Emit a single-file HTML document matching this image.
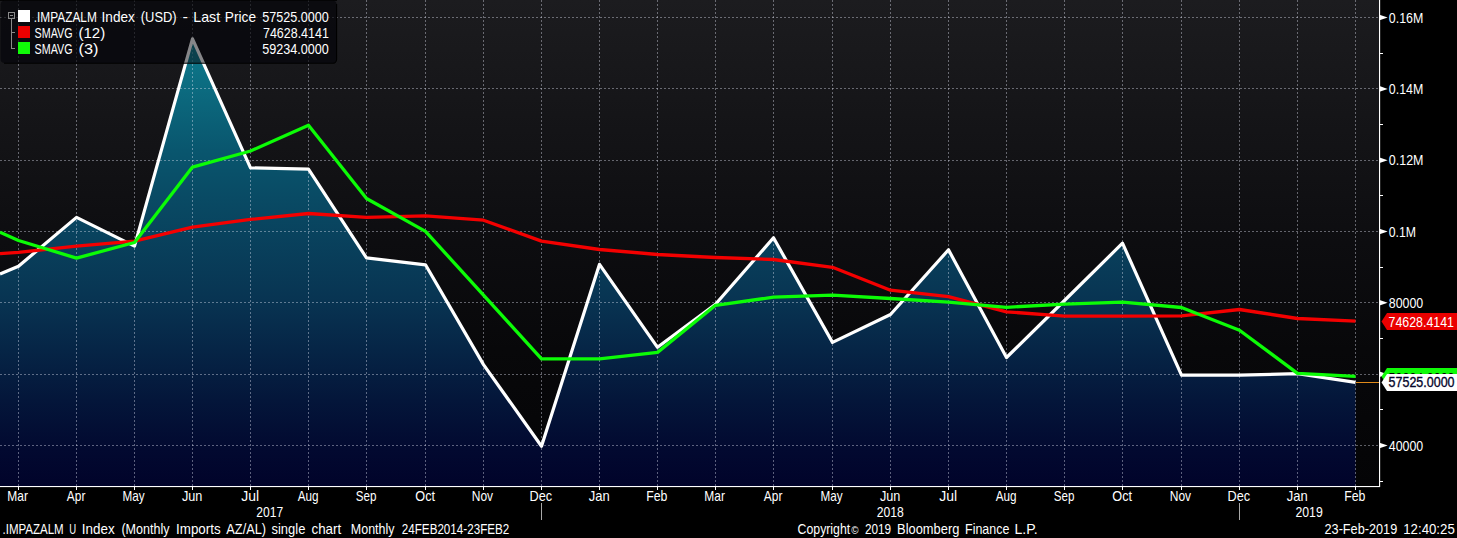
<!DOCTYPE html>
<html><head><meta charset="utf-8"><title>.IMPAZALM Index</title>
<style>
html,body{margin:0;padding:0;background:#000;}
body{width:1457px;height:538px;overflow:hidden;}
svg{display:block;}
text{font-family:"Liberation Sans",sans-serif;font-size:14.3px;fill:#fff;}
</style></head><body>
<svg width="1457" height="538" viewBox="0 0 1457 538">
<defs>
<linearGradient id="bg" x1="0" y1="0" x2="0" y2="1">
<stop offset="0" stop-color="#1c1c1f"/><stop offset="0.5" stop-color="#0d0d10"/><stop offset="0.72" stop-color="#08080a"/><stop offset="1" stop-color="#040406"/>
</linearGradient>
<linearGradient id="fill" gradientUnits="userSpaceOnUse" x1="0" y1="38" x2="0" y2="486">
<stop offset="0" stop-color="#0e7c8e"/><stop offset="0.25" stop-color="#09566e"/><stop offset="0.36" stop-color="#094a64"/><stop offset="0.585" stop-color="#083452"/><stop offset="0.696" stop-color="#062546"/><stop offset="0.808" stop-color="#04163a"/><stop offset="0.92" stop-color="#020930"/><stop offset="1" stop-color="#01032a"/>
</linearGradient>
<clipPath id="lg"><rect x="0.6" y="0.8" width="336" height="62.2" rx="4" ry="4"/></clipPath>
</defs>
<rect x="0" y="0" width="1457" height="538" fill="#000"/>
<rect x="0" y="0" width="1379.5" height="486.3" fill="url(#bg)"/>

<polygon id="area" points="0.0,274.0 18.5,266.2 76.5,217.4 134.5,246.1 192.5,38.9 250.5,167.9 308.5,169.1 366.5,257.9 425.5,264.8 483.5,364.6 541.5,446.2 599.5,264.3 657.5,347.3 715.5,304.2 773.5,237.8 832.5,342.4 890.5,314.5 948.5,249.8 1006.5,357.5 1064.5,300.5 1122.5,243.2 1181.5,375.1 1239.5,375.1 1297.5,373.7 1355.5,382.4 1355.5,486.3 0.0,486.3" fill="url(#fill)"/>
<g stroke="#e4e6f4" stroke-opacity="0.40" stroke-width="1" stroke-dasharray="2 2" fill="none" shape-rendering="crispEdges">
<line x1="0" y1="17.5" x2="1379.5" y2="17.5"/>
<line x1="0" y1="88.5" x2="1379.5" y2="88.5"/>
<line x1="0" y1="160.5" x2="1379.5" y2="160.5"/>
<line x1="0" y1="231.5" x2="1379.5" y2="231.5"/>
<line x1="0" y1="302.5" x2="1379.5" y2="302.5"/>
<line x1="0" y1="374.5" x2="1379.5" y2="374.5"/>
<line x1="0" y1="445.5" x2="1379.5" y2="445.5"/>
<line x1="18.5" y1="0" x2="18.5" y2="486.3"/>
<line x1="76.5" y1="0" x2="76.5" y2="486.3"/>
<line x1="134.5" y1="0" x2="134.5" y2="486.3"/>
<line x1="192.5" y1="0" x2="192.5" y2="486.3"/>
<line x1="250.5" y1="0" x2="250.5" y2="486.3"/>
<line x1="308.5" y1="0" x2="308.5" y2="486.3"/>
<line x1="366.5" y1="0" x2="366.5" y2="486.3"/>
<line x1="425.5" y1="0" x2="425.5" y2="486.3"/>
<line x1="483.5" y1="0" x2="483.5" y2="486.3"/>
<line x1="541.5" y1="0" x2="541.5" y2="486.3"/>
<line x1="599.5" y1="0" x2="599.5" y2="486.3"/>
<line x1="657.5" y1="0" x2="657.5" y2="486.3"/>
<line x1="715.5" y1="0" x2="715.5" y2="486.3"/>
<line x1="773.5" y1="0" x2="773.5" y2="486.3"/>
<line x1="832.5" y1="0" x2="832.5" y2="486.3"/>
<line x1="890.5" y1="0" x2="890.5" y2="486.3"/>
<line x1="948.5" y1="0" x2="948.5" y2="486.3"/>
<line x1="1006.5" y1="0" x2="1006.5" y2="486.3"/>
<line x1="1064.5" y1="0" x2="1064.5" y2="486.3"/>
<line x1="1122.5" y1="0" x2="1122.5" y2="486.3"/>
<line x1="1181.5" y1="0" x2="1181.5" y2="486.3"/>
<line x1="1239.5" y1="0" x2="1239.5" y2="486.3"/>
<line x1="1297.5" y1="0" x2="1297.5" y2="486.3"/>
<line x1="1355.5" y1="0" x2="1355.5" y2="486.3"/>
</g>
<polyline id="wl" points="0.0,274.0 18.5,266.2 76.5,217.4 134.5,246.1 192.5,38.9 250.5,167.9 308.5,169.1 366.5,257.9 425.5,264.8 483.5,364.6 541.5,446.2 599.5,264.3 657.5,347.3 715.5,304.2 773.5,237.8 832.5,342.4 890.5,314.5 948.5,249.8 1006.5,357.5 1064.5,300.5 1122.5,243.2 1181.5,375.1 1239.5,375.1 1297.5,373.7 1355.5,382.4" fill="none" stroke="#ffffff" stroke-width="3.2" stroke-linejoin="round"/>
<polyline points="0.0,253.7 18.5,252.3 76.5,246.1 134.5,241.1 192.5,227.2 250.5,219.4 308.5,213.5 366.5,217.4 425.5,215.8 483.5,220.2 541.5,241.1 599.5,249.5 657.5,254.5 715.5,257.5 773.5,259.5 832.5,267.3 890.5,290.2 948.5,296.6 1006.5,311.8 1064.5,316.2 1122.5,316.2 1181.5,315.8 1239.5,309.5 1297.5,318.5 1355.5,321.2" fill="none" stroke="#f40000" stroke-width="3.3" stroke-linejoin="round"/>
<polyline points="0.0,232.2 18.5,240.5 76.5,258.1 134.5,242.5 192.5,167.1 250.5,151.0 308.5,125.3 366.5,198.5 425.5,231.4 541.5,358.8 599.5,358.8 657.5,352.4 715.5,305.3 773.5,297.2 832.5,295.2 890.5,298.5 948.5,302.2 1006.5,307.3 1064.5,304.1 1122.5,302.1 1181.5,307.5 1239.5,330.2 1297.5,373.4 1355.5,376.4" fill="none" stroke="#0cfc06" stroke-width="3.3" stroke-linejoin="round"/>
<line x1="1355.5" y1="382.5" x2="1379.5" y2="382.5" stroke="#e08a1a" stroke-width="1" shape-rendering="crispEdges"/>
<rect x="1379" y="0" width="1.15" height="487" fill="#fff"/>
<rect x="0" y="486" width="1380" height="1.1" fill="#fff"/>
<path d="M1379.5 14.7 L1387.7 17.5 L1379.5 20.3 Z" fill="#fff"/>
<path d="M1379.5 86.1 L1387.7 88.9 L1379.5 91.7 Z" fill="#fff"/>
<path d="M1379.5 157.4 L1387.7 160.2 L1379.5 163.0 Z" fill="#fff"/>
<path d="M1379.5 228.7 L1387.7 231.5 L1379.5 234.3 Z" fill="#fff"/>
<path d="M1379.5 300.0 L1387.7 302.8 L1379.5 305.6 Z" fill="#fff"/>
<path d="M1379.5 371.4 L1387.7 374.2 L1379.5 377.0 Z" fill="#fff"/>
<path d="M1379.5 442.7 L1387.7 445.5 L1379.5 448.3 Z" fill="#fff"/>
<line x1="1379.5" y1="53.5" x2="1383.2" y2="53.5" stroke="#fff" stroke-width="1" shape-rendering="crispEdges"/>
<line x1="1379.5" y1="124.5" x2="1383.2" y2="124.5" stroke="#fff" stroke-width="1" shape-rendering="crispEdges"/>
<line x1="1379.5" y1="195.5" x2="1383.2" y2="195.5" stroke="#fff" stroke-width="1" shape-rendering="crispEdges"/>
<line x1="1379.5" y1="267.5" x2="1383.2" y2="267.5" stroke="#fff" stroke-width="1" shape-rendering="crispEdges"/>
<line x1="1379.5" y1="338.5" x2="1383.2" y2="338.5" stroke="#fff" stroke-width="1" shape-rendering="crispEdges"/>
<line x1="1379.5" y1="409.5" x2="1383.2" y2="409.5" stroke="#fff" stroke-width="1" shape-rendering="crispEdges"/>
<line x1="1379.5" y1="481.5" x2="1383.2" y2="481.5" stroke="#fff" stroke-width="1" shape-rendering="crispEdges"/>
<line x1="18.5" y1="486.3" x2="18.5" y2="490.3" stroke="#fff" stroke-width="1" shape-rendering="crispEdges"/>
<line x1="76.5" y1="486.3" x2="76.5" y2="490.3" stroke="#fff" stroke-width="1" shape-rendering="crispEdges"/>
<line x1="134.5" y1="486.3" x2="134.5" y2="490.3" stroke="#fff" stroke-width="1" shape-rendering="crispEdges"/>
<line x1="192.5" y1="486.3" x2="192.5" y2="490.3" stroke="#fff" stroke-width="1" shape-rendering="crispEdges"/>
<line x1="250.5" y1="486.3" x2="250.5" y2="490.3" stroke="#fff" stroke-width="1" shape-rendering="crispEdges"/>
<line x1="308.5" y1="486.3" x2="308.5" y2="490.3" stroke="#fff" stroke-width="1" shape-rendering="crispEdges"/>
<line x1="366.5" y1="486.3" x2="366.5" y2="490.3" stroke="#fff" stroke-width="1" shape-rendering="crispEdges"/>
<line x1="425.5" y1="486.3" x2="425.5" y2="490.3" stroke="#fff" stroke-width="1" shape-rendering="crispEdges"/>
<line x1="483.5" y1="486.3" x2="483.5" y2="490.3" stroke="#fff" stroke-width="1" shape-rendering="crispEdges"/>
<line x1="541.5" y1="486.3" x2="541.5" y2="490.3" stroke="#fff" stroke-width="1" shape-rendering="crispEdges"/>
<line x1="599.5" y1="486.3" x2="599.5" y2="490.3" stroke="#fff" stroke-width="1" shape-rendering="crispEdges"/>
<line x1="657.5" y1="486.3" x2="657.5" y2="490.3" stroke="#fff" stroke-width="1" shape-rendering="crispEdges"/>
<line x1="715.5" y1="486.3" x2="715.5" y2="490.3" stroke="#fff" stroke-width="1" shape-rendering="crispEdges"/>
<line x1="773.5" y1="486.3" x2="773.5" y2="490.3" stroke="#fff" stroke-width="1" shape-rendering="crispEdges"/>
<line x1="832.5" y1="486.3" x2="832.5" y2="490.3" stroke="#fff" stroke-width="1" shape-rendering="crispEdges"/>
<line x1="890.5" y1="486.3" x2="890.5" y2="490.3" stroke="#fff" stroke-width="1" shape-rendering="crispEdges"/>
<line x1="948.5" y1="486.3" x2="948.5" y2="490.3" stroke="#fff" stroke-width="1" shape-rendering="crispEdges"/>
<line x1="1006.5" y1="486.3" x2="1006.5" y2="490.3" stroke="#fff" stroke-width="1" shape-rendering="crispEdges"/>
<line x1="1064.5" y1="486.3" x2="1064.5" y2="490.3" stroke="#fff" stroke-width="1" shape-rendering="crispEdges"/>
<line x1="1122.5" y1="486.3" x2="1122.5" y2="490.3" stroke="#fff" stroke-width="1" shape-rendering="crispEdges"/>
<line x1="1181.5" y1="486.3" x2="1181.5" y2="490.3" stroke="#fff" stroke-width="1" shape-rendering="crispEdges"/>
<line x1="1239.5" y1="486.3" x2="1239.5" y2="490.3" stroke="#fff" stroke-width="1" shape-rendering="crispEdges"/>
<line x1="1297.5" y1="486.3" x2="1297.5" y2="490.3" stroke="#fff" stroke-width="1" shape-rendering="crispEdges"/>
<line x1="1355.5" y1="486.3" x2="1355.5" y2="490.3" stroke="#fff" stroke-width="1" shape-rendering="crispEdges"/>
<line x1="541.5" y1="503" x2="541.5" y2="520" stroke="#a8a8a8" stroke-width="1" shape-rendering="crispEdges"/>
<line x1="1239.5" y1="503" x2="1239.5" y2="520" stroke="#a8a8a8" stroke-width="1" shape-rendering="crispEdges"/>
<rect x="0" y="0" width="337" height="1" fill="#000" fill-opacity="0.85"/><rect x="0.6" y="0.8" width="336" height="62.2" rx="4" ry="4" fill="#0b0b0f" fill-opacity="0.93"/>
<g clip-path="url(#lg)" opacity="0.47"><polygon points="0.0,274.0 18.5,266.2 76.5,217.4 134.5,246.1 192.5,38.9 250.5,167.9 308.5,169.1 366.5,257.9 425.5,264.8 483.5,364.6 541.5,446.2 599.5,264.3 657.5,347.3 715.5,304.2 773.5,237.8 832.5,342.4 890.5,314.5 948.5,249.8 1006.5,357.5 1064.5,300.5 1122.5,243.2 1181.5,375.1 1239.5,375.1 1297.5,373.7 1355.5,382.4 1355.5,486.3 0.0,486.3" fill="url(#fill)"/><g opacity="0.55"><g stroke="#e4e6f4" stroke-opacity="0.40" stroke-width="1" stroke-dasharray="2 2" fill="none" shape-rendering="crispEdges">
<line x1="0" y1="17.5" x2="1379.5" y2="17.5"/>
<line x1="0" y1="88.5" x2="1379.5" y2="88.5"/>
<line x1="0" y1="160.5" x2="1379.5" y2="160.5"/>
<line x1="0" y1="231.5" x2="1379.5" y2="231.5"/>
<line x1="0" y1="302.5" x2="1379.5" y2="302.5"/>
<line x1="0" y1="374.5" x2="1379.5" y2="374.5"/>
<line x1="0" y1="445.5" x2="1379.5" y2="445.5"/>
<line x1="18.5" y1="0" x2="18.5" y2="486.3"/>
<line x1="76.5" y1="0" x2="76.5" y2="486.3"/>
<line x1="134.5" y1="0" x2="134.5" y2="486.3"/>
<line x1="192.5" y1="0" x2="192.5" y2="486.3"/>
<line x1="250.5" y1="0" x2="250.5" y2="486.3"/>
<line x1="308.5" y1="0" x2="308.5" y2="486.3"/>
<line x1="366.5" y1="0" x2="366.5" y2="486.3"/>
<line x1="425.5" y1="0" x2="425.5" y2="486.3"/>
<line x1="483.5" y1="0" x2="483.5" y2="486.3"/>
<line x1="541.5" y1="0" x2="541.5" y2="486.3"/>
<line x1="599.5" y1="0" x2="599.5" y2="486.3"/>
<line x1="657.5" y1="0" x2="657.5" y2="486.3"/>
<line x1="715.5" y1="0" x2="715.5" y2="486.3"/>
<line x1="773.5" y1="0" x2="773.5" y2="486.3"/>
<line x1="832.5" y1="0" x2="832.5" y2="486.3"/>
<line x1="890.5" y1="0" x2="890.5" y2="486.3"/>
<line x1="948.5" y1="0" x2="948.5" y2="486.3"/>
<line x1="1006.5" y1="0" x2="1006.5" y2="486.3"/>
<line x1="1064.5" y1="0" x2="1064.5" y2="486.3"/>
<line x1="1122.5" y1="0" x2="1122.5" y2="486.3"/>
<line x1="1181.5" y1="0" x2="1181.5" y2="486.3"/>
<line x1="1239.5" y1="0" x2="1239.5" y2="486.3"/>
<line x1="1297.5" y1="0" x2="1297.5" y2="486.3"/>
<line x1="1355.5" y1="0" x2="1355.5" y2="486.3"/>
</g></g><polyline points="0.0,274.0 18.5,266.2 76.5,217.4 134.5,246.1 192.5,38.9 250.5,167.9 308.5,169.1 366.5,257.9 425.5,264.8 483.5,364.6 541.5,446.2 599.5,264.3 657.5,347.3 715.5,304.2 773.5,237.8 832.5,342.4 890.5,314.5 948.5,249.8 1006.5,357.5 1064.5,300.5 1122.5,243.2 1181.5,375.1 1239.5,375.1 1297.5,373.7 1355.5,382.4" fill="none" stroke="#ffffff" stroke-width="3.2" stroke-linejoin="round"/></g>
<path d="M4 63.3 H332.5 A4 4 0 0 0 336.6 59.5 V4" fill="none" stroke="#000" stroke-width="1.1"/>
<rect x="18" y="10" width="12" height="12" fill="#fff"/>
<rect x="18" y="26" width="12" height="12" fill="#ea0000"/>
<rect x="18" y="42" width="12" height="12" fill="#10fa08"/>
<g stroke="#8a8a8a" stroke-width="1" fill="none" shape-rendering="crispEdges"><rect x="8.5" y="12.5" width="6" height="6"/><line x1="10" y1="15.5" x2="13" y2="15.5"/><path d="M11.5 19 V48.5 H15 M11.5 32.5 H15"/></g>
<path d="M1381.5 321.5 L1387 313 L1457 313 L1457 330 L1387 330 Z" fill="#ea0000"/>
<path d="M1381.5 376.5 L1387 368 L1457 368 L1457 385 L1387 385 Z" fill="#10fa08"/>
<text x="1388.60" y="383.0" textLength="65.96" lengthAdjust="spacingAndGlyphs" style="fill:#000">59234.0000</text>
<path d="M1381.5 382.5 L1387 374 L1457 374 L1457 391 L1387 391 Z" fill="#ffffff"/>
<text x="1388.80" y="22.5" textLength="34.49" lengthAdjust="spacingAndGlyphs">0.16M</text>
<text x="1388.80" y="93.9" textLength="34.49" lengthAdjust="spacingAndGlyphs">0.14M</text>
<text x="1388.80" y="165.2" textLength="34.69" lengthAdjust="spacingAndGlyphs">0.12M</text>
<text x="1388.80" y="236.5" textLength="27.28" lengthAdjust="spacingAndGlyphs">0.1M</text>
<text x="1388.80" y="307.8" textLength="34.46" lengthAdjust="spacingAndGlyphs">80000</text>
<text x="1388.80" y="450.5" textLength="34.46" lengthAdjust="spacingAndGlyphs">40000</text>
<text x="7.36" y="500.6" textLength="20.64" lengthAdjust="spacingAndGlyphs">Mar</text>
<text x="66.85" y="500.6" textLength="18.50" lengthAdjust="spacingAndGlyphs">Apr</text>
<text x="122.38" y="500.6" textLength="22.12" lengthAdjust="spacingAndGlyphs">May</text>
<text x="181.95" y="500.6" textLength="20.46" lengthAdjust="spacingAndGlyphs">Jun</text>
<text x="241.35" y="500.6" textLength="17.87" lengthAdjust="spacingAndGlyphs">Jul</text>
<text x="297.75" y="500.6" textLength="20.86" lengthAdjust="spacingAndGlyphs">Aug</text>
<text x="355.85" y="500.6" textLength="20.66" lengthAdjust="spacingAndGlyphs">Sep</text>
<text x="415.30" y="500.6" textLength="19.78" lengthAdjust="spacingAndGlyphs">Oct</text>
<text x="471.76" y="500.6" textLength="21.32" lengthAdjust="spacingAndGlyphs">Nov</text>
<text x="529.51" y="500.6" textLength="22.62" lengthAdjust="spacingAndGlyphs">Dec</text>
<text x="588.70" y="500.6" textLength="20.96" lengthAdjust="spacingAndGlyphs">Jan</text>
<text x="646.14" y="500.6" textLength="21.22" lengthAdjust="spacingAndGlyphs">Feb</text>
<text x="704.36" y="500.6" textLength="20.64" lengthAdjust="spacingAndGlyphs">Mar</text>
<text x="763.85" y="500.6" textLength="18.50" lengthAdjust="spacingAndGlyphs">Apr</text>
<text x="820.38" y="500.6" textLength="22.12" lengthAdjust="spacingAndGlyphs">May</text>
<text x="879.95" y="500.6" textLength="20.46" lengthAdjust="spacingAndGlyphs">Jun</text>
<text x="939.35" y="500.6" textLength="17.87" lengthAdjust="spacingAndGlyphs">Jul</text>
<text x="995.75" y="500.6" textLength="20.86" lengthAdjust="spacingAndGlyphs">Aug</text>
<text x="1053.85" y="500.6" textLength="20.66" lengthAdjust="spacingAndGlyphs">Sep</text>
<text x="1112.30" y="500.6" textLength="19.78" lengthAdjust="spacingAndGlyphs">Oct</text>
<text x="1169.76" y="500.6" textLength="21.32" lengthAdjust="spacingAndGlyphs">Nov</text>
<text x="1227.51" y="500.6" textLength="22.62" lengthAdjust="spacingAndGlyphs">Dec</text>
<text x="1286.70" y="500.6" textLength="20.96" lengthAdjust="spacingAndGlyphs">Jan</text>
<text x="1344.14" y="500.6" textLength="21.22" lengthAdjust="spacingAndGlyphs">Feb</text>
<text x="256.35" y="516.7" textLength="26.86" lengthAdjust="spacingAndGlyphs">2017</text>
<text x="876.75" y="516.7" textLength="27.06" lengthAdjust="spacingAndGlyphs">2018</text>
<text x="1295.45" y="516.7" textLength="27.26" lengthAdjust="spacingAndGlyphs">2019</text>
<text y="533.7"><tspan x="2.49" textLength="61.24" lengthAdjust="spacingAndGlyphs">.IMPAZALM</tspan> <tspan x="69.33" textLength="6.88" lengthAdjust="spacingAndGlyphs">U</tspan> <tspan x="81.76" textLength="32.88" lengthAdjust="spacingAndGlyphs">Index</tspan> <tspan x="121.40" textLength="48.15" lengthAdjust="spacingAndGlyphs">(Monthly</tspan> <tspan x="176.06" textLength="44.57" lengthAdjust="spacingAndGlyphs">Imports</tspan> <tspan x="226.30" textLength="39.78" lengthAdjust="spacingAndGlyphs">AZ/AL)</tspan> <tspan x="271.50" textLength="33.86" lengthAdjust="spacingAndGlyphs">single</tspan> <tspan x="311.50" textLength="29.67" lengthAdjust="spacingAndGlyphs">chart</tspan> <tspan x="350.83" textLength="43.73" lengthAdjust="spacingAndGlyphs">Monthly</tspan> <tspan x="401.80" textLength="107.46" lengthAdjust="spacingAndGlyphs">24FEB2014-23FEB2</tspan></text>
<text y="533.7"><tspan x="797.60" textLength="52.58" lengthAdjust="spacingAndGlyphs">Copyright</tspan><tspan x="851.20" textLength="7.28" lengthAdjust="spacingAndGlyphs" style="font-size:10px">©</tspan> <tspan x="864.90" textLength="26.26" lengthAdjust="spacingAndGlyphs">2019</tspan> <tspan x="897.10" textLength="62.26" lengthAdjust="spacingAndGlyphs">Bloomberg</tspan> <tspan x="965.03" textLength="44.33" lengthAdjust="spacingAndGlyphs">Finance</tspan> <tspan x="1014.41" textLength="23.24" lengthAdjust="spacingAndGlyphs">L.P.</tspan></text>
<text y="533.7"><tspan x="1324.50" textLength="72.76" lengthAdjust="spacingAndGlyphs">23-Feb-2019</tspan> <tspan x="1403.27" textLength="51.48" lengthAdjust="spacingAndGlyphs">12:40:25</tspan></text>
<text y="21.8"><tspan x="33.77" textLength="63.09" lengthAdjust="spacingAndGlyphs">.IMPAZALM</tspan> <tspan x="101.55" textLength="33.29" lengthAdjust="spacingAndGlyphs">Index</tspan> <tspan x="140.80" textLength="35.89" lengthAdjust="spacingAndGlyphs">(USD)</tspan> <tspan x="182.60" textLength="5.52" lengthAdjust="spacingAndGlyphs">-</tspan> <tspan x="193.31" textLength="26.87" lengthAdjust="spacingAndGlyphs">Last</tspan> <tspan x="224.84" textLength="31.21" lengthAdjust="spacingAndGlyphs">Price</tspan> <tspan x="262.20" textLength="66.66" lengthAdjust="spacingAndGlyphs">57525.0000</tspan></text>
<text y="37.8"><tspan x="34.60" textLength="37.99" lengthAdjust="spacingAndGlyphs">SMAVG</tspan> <tspan x="78.50" textLength="26.70" lengthAdjust="spacingAndGlyphs">(12)</tspan> <tspan x="263.00" textLength="65.86" lengthAdjust="spacingAndGlyphs">74628.4141</tspan></text>
<text y="53.8"><tspan x="34.60" textLength="37.99" lengthAdjust="spacingAndGlyphs">SMAVG</tspan> <tspan x="78.50" textLength="19.97" lengthAdjust="spacingAndGlyphs">(3)</tspan> <tspan x="262.20" textLength="66.66" lengthAdjust="spacingAndGlyphs">59234.0000</tspan></text>
<text x="1388.60" y="327.0" textLength="65.36" lengthAdjust="spacingAndGlyphs">74628.4141</text>
<text x="1388.60" y="387.4" textLength="65.96" lengthAdjust="spacingAndGlyphs" style="fill:#05052a;stroke:#05052a;stroke-width:0.35px">57525.0000</text>
</svg></body></html>
